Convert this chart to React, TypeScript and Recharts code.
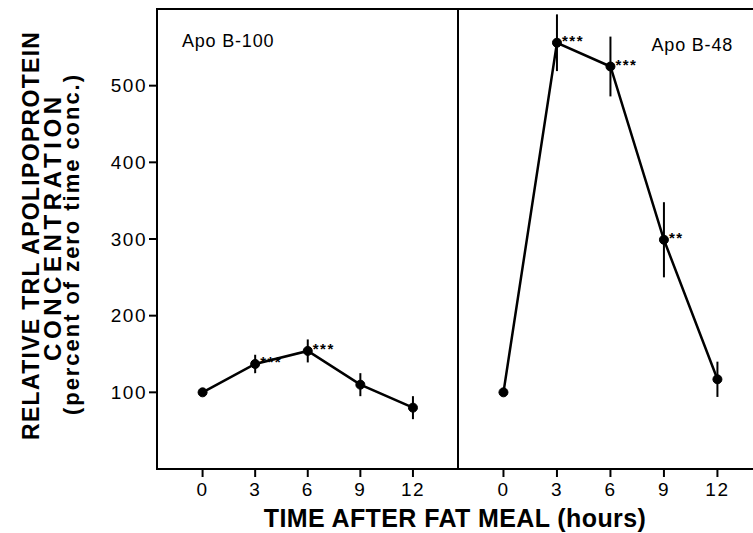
import React from "react";
import {
  LineChart,
  Line,
  XAxis,
  YAxis,
  ErrorBar,
  LabelList,
  ReferenceArea,
  Label,
} from "recharts";

const FONT = "'Liberation Sans', Arial, sans-serif";

const hours = [0, 3, 6, 9, 12];
const apoB100 = [100, 137, 154, 110, 80];
const apoB100Err = [0, 12, 15, 15, 15];
const apoB100Sig = ["", "***", "***", "", ""];
const apoB48 = [100, 556, 525, 299, 117];
const apoB48Err = [0, 37, 39, 49, 23];
const apoB48Sig = ["", "***", "***", "**", ""];

const xTicks = [0, 3, 6, 9, 12];
const yTicks = [100, 200, 300, 400, 500];
const yTitle = [
  "RELATIVE TRL APOLIPOPROTEIN",
  "CONCENTRATION",
  "(percent of zero time conc.)",
];
const xTitle = "TIME AFTER FAT MEAL (hours)";

const leftRows = hours.map((h, i) => ({
  hour: h,
  value: apoB100[i],
  err: apoB100Err[i],
  sig: apoB100Sig[i],
}));
const rightRows = hours.map((h, i) => ({
  hour: h,
  value: apoB48[i],
  err: apoB48Err[i],
  sig: apoB48Sig[i],
}));

const tickText = { fill: "#000", fontSize: 19, fontFamily: FONT, letterSpacing: 1.5 };
const tickLine = { stroke: "#000", strokeWidth: 2 };

function renderStars(props: any) {
  const { x, y, value } = props;
  if (!value) return null;
  return (
    <text
      x={x + 5}
      y={y + 3}
      fontSize={15}
      fontWeight="bold"
      letterSpacing={1.5}
      fill="#000"
      fontFamily={FONT}
    >
      {value}
    </text>
  );
}

// three stacked rotated lines, stretched to the lengths in the scan
function YTitle() {
  const lines = [
    { cx: 39, cy: 236, size: 23, len: 408 },
    { cx: 61, cy: 229, size: 24, len: 264 },
    { cx: 79, cy: 245, size: 22, len: 340 },
  ];
  return (
    <g>
      {lines.map((l, i) => (
        <text
          key={i}
          x={l.cx}
          y={l.cy}
          transform={`rotate(-90, ${l.cx}, ${l.cy})`}
          textAnchor="middle"
          fontSize={l.size}
          fontWeight="bold"
          fontFamily={FONT}
          fill="#000"
          textLength={l.len}
          lengthAdjust="spacing"
        >
          {yTitle[i]}
        </text>
      ))}
    </g>
  );
}

function Series() {
  return (
    <Line
      type="linear"
      dataKey="value"
      stroke="#000"
      strokeWidth={2.5}
      dot={{ r: 4.5, fill: "#000", stroke: "#000", strokeWidth: 1 }}
      activeDot={false}
      isAnimationActive={false}
    >
      <ErrorBar
        dataKey="err"
        direction="y"
        width={0}
        stroke="#000"
        strokeWidth={2}
        isAnimationActive={false}
      />
      <LabelList dataKey="sig" content={renderStars} />
    </Line>
  );
}

const titleLabel = {
  fontSize: 18,
  fill: "#000",
  fontFamily: FONT,
  letterSpacing: 0.8,
};

export default function App() {
  const leftDomain = [-2.6, 14.57];
  const rightDomain = [-2.55, 14.5];
  return (
    <div
      style={{
        position: "absolute",
        left: 0,
        top: 0,
        width: 753,
        height: 533,
        overflow: "hidden",
        background: "#fff",
        fontFamily: FONT,
      }}
    >
      <div style={{ position: "absolute", left: 0, top: 0 }}>
        <LineChart
          width={460}
          height={533}
          data={leftRows}
          margin={{ top: 9, right: 2, bottom: 34, left: 0 }}
        >
          <XAxis
            dataKey="hour"
            type="number"
            domain={leftDomain}
            allowDataOverflow
            ticks={xTicks}
            interval={0}
            axisLine={false}
            tickLine={tickLine}
            tickSize={8}
            tickMargin={6}
            tick={tickText}
            height={30}
          />
          <YAxis
            type="number"
            domain={[0, 600]}
            allowDataOverflow
            ticks={yTicks}
            interval={0}
            axisLine={false}
            tickLine={tickLine}
            tickSize={8}
            tick={tickText}
            width={157}
          >
            <Label content={<YTitle />} />
          </YAxis>
          <ReferenceArea
            x1={leftDomain[0]}
            x2={leftDomain[1]}
            y1={0}
            y2={600}
            fill="none"
            stroke="#000"
            strokeWidth={2}
            label={{
              value: "Apo B-100",
              position: "insideTopLeft",
              offset: 25,
              ...titleLabel,
            }}
          />
          {Series()}
        </LineChart>
      </div>

      <div style={{ position: "absolute", left: 458, top: 0 }}>
        <LineChart
          width={304}
          height={533}
          data={rightRows}
          margin={{ top: 9, right: 0, bottom: 34, left: 0 }}
        >
          <XAxis
            dataKey="hour"
            type="number"
            domain={rightDomain}
            allowDataOverflow
            ticks={xTicks}
            interval={0}
            axisLine={false}
            tickLine={tickLine}
            tickSize={8}
            tickMargin={6}
            tick={tickText}
            height={30}
          />
          <YAxis type="number" domain={[0, 600]} allowDataOverflow hide />
          <ReferenceArea
            x1={rightDomain[0]}
            x2={rightDomain[1]}
            y1={0}
            y2={600}
            fill="none"
            stroke="#000"
            strokeWidth={2}
            label={{
              value: "Apo B-48",
              position: "insideTopRight",
              offset: 29,
              ...titleLabel,
            }}
          />
          {Series()}
        </LineChart>
      </div>

      <div
        style={{
          position: "absolute",
          left: 255,
          width: 400,
          top: 506,
          textAlign: "center",
          fontSize: 25,
          lineHeight: "25px",
          fontWeight: "bold",
          letterSpacing: 0.4,
          color: "#000",
          whiteSpace: "nowrap",
        }}
      >
        {xTitle}
      </div>
    </div>
  );
}
